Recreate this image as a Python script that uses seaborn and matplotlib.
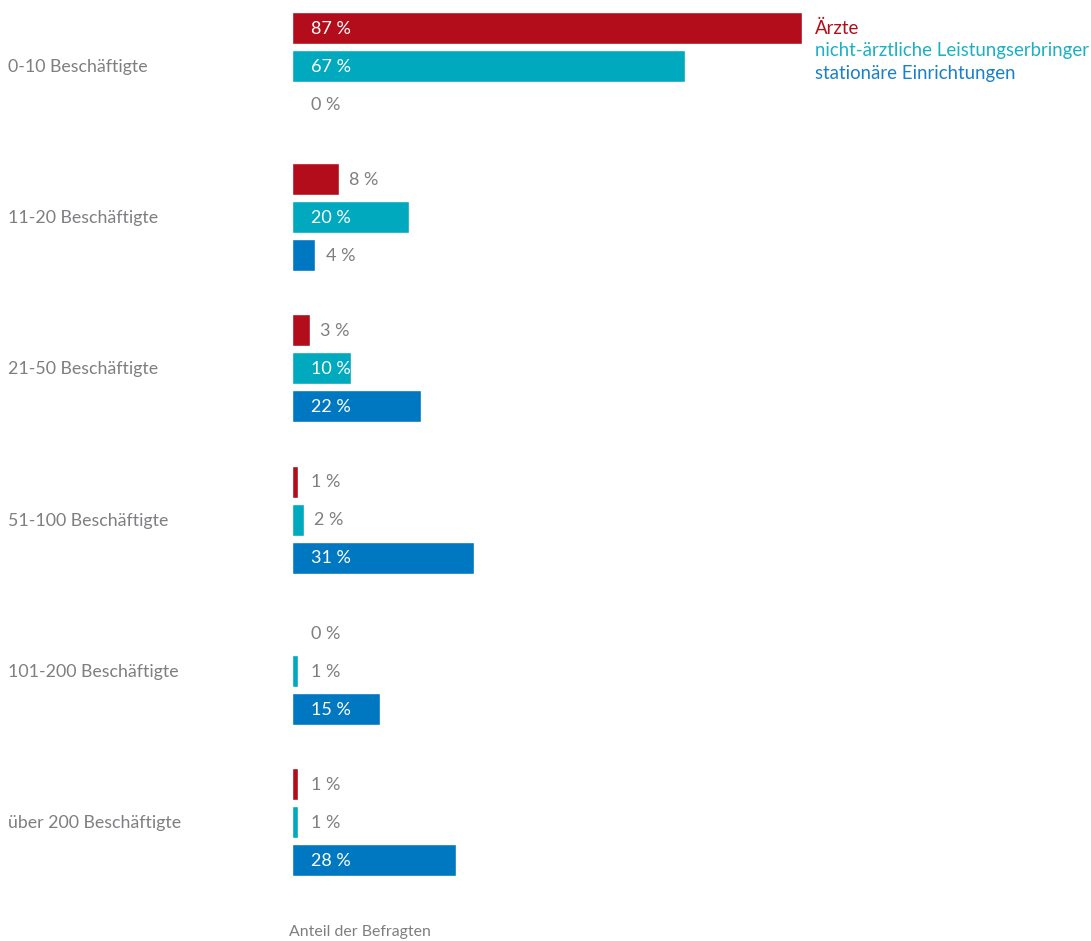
import matplotlib.pyplot as plt
import pandas as pd
import seaborn as sns

categories = ["0-10 Beschäftigte", "11-20 Beschäftigte", "21-50 Beschäftigte",
              "51-100 Beschäftigte", "101-200 Beschäftigte", "über 200 Beschäftigte"]
groups = ["Ärzte", "nicht-ärztliche Leistungserbringer", "stationäre Einrichtungen"]
aerzte = [87, 8, 3, 1, 0, 1]
nicht_aerztlich = [67, 20, 10, 2, 1, 1]
stationaer = [0, 4, 22, 31, 15, 28]

colors = ["#B30D1C", "#00A9BE", "#0077C1"]
legend_colors = ["#B30D1C", "#1BB0C2", "#1A80C9"]
gray = "#7E7F82"

df = pd.DataFrame({
    "Kategorie": categories * 3,
    "Gruppe": [g for g in groups for _ in categories],
    "Anteil": aerzte + nicht_aerztlich + stationaer,
})

sns.set_style("white")
plt.rcParams["font.family"] = ["Lato", "DejaVu Sans"]

fig = plt.figure(figsize=(10.91, 9.41), dpi=100)
ax = fig.add_axes([292 / 1091, 0, 799 / 1091, 1])

sns.barplot(data=df, y="Kategorie", x="Anteil", hue="Gruppe", orient="h",
            palette=colors, saturation=1, width=0.755, gap=0.16, ax=ax,
            legend=False)

ax.set_xlim(0, 799 / 5.86)
ax.set_ylim(5.787, -0.4365)
sns.despine(ax=ax, left=True, bottom=True)
ax.set_xticks([])
ax.set_yticks([])
ax.set_xlabel("")
ax.set_ylabel("")

# value labels
for container, vals in zip(ax.containers, [aerzte, nicht_aerztlich, stationaer]):
    for bar, v in zip(container, vals):
        yc = bar.get_y() + bar.get_height() / 2 + 0.005
        if v >= 10:
            ax.text(3.3, yc, f"{v} %", color="white", fontsize=13,
                    va="center", ha="left")
        else:
            ax.text(max(3.3, v + 1.8), yc, f"{v} %", color=gray, fontsize=13,
                    va="center", ha="left")

# category labels
for i, cat in enumerate(categories):
    y_fig = 1 - (67 + 151.2 * i) / 941
    fig.text(8 / 1091, y_fig, cat, color=gray, fontsize=12.8, va="center", ha="left")

# legend as colored text
for j, (g, c) in enumerate(zip(groups, legend_colors)):
    fig.text(815 / 1091, 1 - (28 + 22.5 * j) / 941, g, color=c, fontsize=13.4,
             va="center", ha="left")

fig.text(289 / 1091, 1 - 932 / 941, "Anteil der Befragten", color=gray,
         fontsize=11.4, va="center", ha="left")

fig.savefig("out.png", dpi=100)
